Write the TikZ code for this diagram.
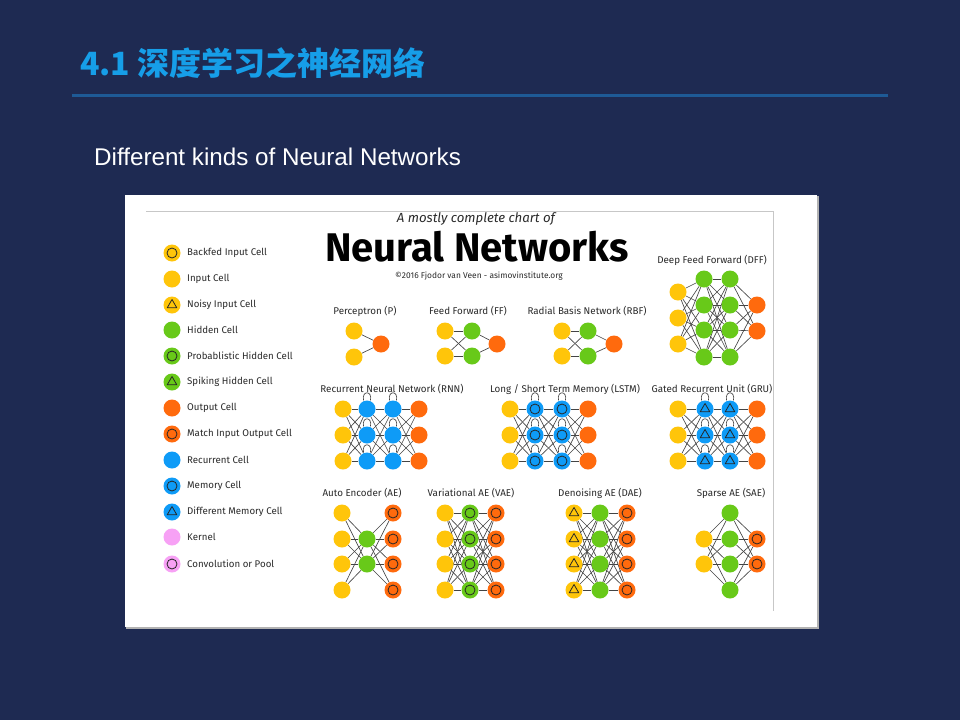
\documentclass[tikz,border=0pt]{standalone}
\usepackage{fontspec}
\setmainfont{Fira Sans}
\newfontfamily\cjkfont{Noto Sans CJK SC}
\newfontfamily\subfont{Liberation Sans}
\pgfdeclarelayer{bglayer}
\pgfdeclarelayer{edgelayer}
\pgfsetlayers{bglayer,edgelayer,main}
\definecolor{bgnavy}{HTML}{1E2A52}
\definecolor{titleblue}{HTML}{169EE8}
\definecolor{rulecol}{HTML}{1E5A96}
\definecolor{cyel}{HTML}{FFC50A}
\definecolor{cgrn}{HTML}{68C919}
\definecolor{corg}{HTML}{FF6A0D}
\definecolor{cblu}{HTML}{0E9BF7}
\definecolor{cpnk}{HTML}{F7A1F5}
\definecolor{edgecol}{HTML}{444444}
\definecolor{txtcol}{HTML}{2A2A2A}
\tikzset{
  cell/.style={circle,minimum size=17pt,inner sep=0pt,draw=none},
  yel/.style={cell,fill=cyel},
  grn/.style={cell,fill=cgrn},
  org/.style={cell,fill=corg},
  blu/.style={cell,fill=cblu},
  pnk/.style={cell,fill=cpnk},
  ring/.style={path picture={\draw[black!85,line width=0.8pt] (path picture bounding box.center) circle (5pt);}},
  tri/.style={path picture={\draw[black!85,line width=0.8pt,line join=round]
      ([shift={(90:5.5pt)}]path picture bounding box.center) --
      ([shift={(210:5.5pt)}]path picture bounding box.center) --
      ([shift={(330:5.5pt)}]path picture bounding box.center) -- cycle;}},
  conn/.style={draw=edgecol,line width=0.65pt},
  loopc/.style={draw=edgecol,line width=0.65pt},
  netlabel/.style={font=\fontsize{9.8}{11}\selectfont,text=txtcol,inner sep=0pt},
  leglabel/.style={font=\fontsize{9.7}{11}\selectfont,text=txtcol,anchor=west,inner sep=0pt},
}
\begin{document}
\begin{tikzpicture}[x=1pt,y=-1pt]
\useasboundingbox (0,0) rectangle (960,720);
\begin{pgfonlayer}{bglayer}
\fill[bgnavy] (0,0) rectangle (960,720);
\fill[black!30] (126,196) rectangle (819,629);
\fill[white] (125,195) rectangle (817,627);
\draw[black!22,line width=0.8pt] (146,211) -- (773,211) -- (773,611);
\end{pgfonlayer}
% title
\node[anchor=west,inner sep=0pt,text=titleblue,font=\cjkfont\bfseries\fontsize{32}{36}\selectfont] (title) at (80,63) {4.1 深度学习之神经网络};
\draw[rulecol,line width=3pt] (72,95) -- (888,95);
\node[anchor=west,inner sep=0pt,text=white,font=\subfont\fontsize{24.2}{28}\selectfont] (sub) at (94,157) {Different kinds of Neural Networks};
% chart titles
\node[inner sep=0pt,text=txtcol,font=\itshape\fontsize{13.2}{15}\selectfont] (t1) at (476,219) {A mostly complete chart of};
\node[inner sep=0pt,text=black,font=\bfseries\fontsize{40}{44}\selectfont] (t2) at (477,247) {Neural Networks};
\node[inner sep=0pt,text=txtcol,font=\fontsize{8.4}{10}\selectfont] (t3) at (479,276) {©2016 Fjodor van Veen - asimovinstitute.org};
% legend
\node[yel,ring] (L1) at (172,253) {}; \node[leglabel] (L1t) at (187,253) {Backfed Input Cell};
\node[yel] (L2) at (172,279) {}; \node[leglabel] (L2t) at (187,279) {Input Cell};
\node[yel,tri] (L3) at (172,305) {}; \node[leglabel] (L3t) at (187,305) {Noisy Input Cell};
\node[grn] (L4) at (172,330) {}; \node[leglabel] (L4t) at (187,330) {Hidden Cell};
\node[grn,ring] (L5) at (172,356) {}; \node[leglabel] (L5t) at (187,356) {Probablistic Hidden Cell};
\node[grn,tri] (L6) at (172,382) {}; \node[leglabel] (L6t) at (187,382) {Spiking Hidden Cell};
\node[org] (L7) at (172,408) {}; \node[leglabel] (L7t) at (187,408) {Output Cell};
\node[org,ring] (L8) at (172,434) {}; \node[leglabel] (L8t) at (187,434) {Match Input Output Cell};
\node[blu] (L9) at (172,460) {}; \node[leglabel] (L9t) at (187,460) {Recurrent Cell};
\node[blu,ring] (L10) at (172,486) {}; \node[leglabel] (L10t) at (187,486) {Memory Cell};
\node[blu,tri] (L11) at (172,512) {}; \node[leglabel] (L11t) at (187,512) {Different Memory Cell};
\node[pnk] (L12) at (172,537) {}; \node[leglabel] (L12t) at (187,537) {Kernel};
\node[pnk,ring] (L13) at (172,564) {}; \node[leglabel] (L13t) at (187,564) {Convolution or Pool};
% network labels
\node[netlabel] (lP) at (365,311) {Perceptron (P)};
\node[netlabel] (lFF) at (468,311) {Feed Forward (FF)};
\node[netlabel] (lRBF) at (587,311) {Radial Basis Network (RBF)};
\node[netlabel] (lDFF) at (712,260) {Deep Feed Forward (DFF)};
\node[netlabel] (lRNN) at (392,389) {Recurrent Neural Network (RNN)};
\node[netlabel] (lLSTM) at (565,389) {Long / Short Term Memory (LSTM)};
\node[netlabel] (lGRU) at (712,389) {Gated Recurrent Unit (GRU)};
\node[netlabel] (lAE) at (362,493) {Auto Encoder (AE)};
\node[netlabel] (lVAE) at (471,493) {Variational AE (VAE)};
\node[netlabel] (lDAE) at (600,493) {Denoising AE (DAE)};
\node[netlabel] (lSAE) at (731,493) {Sparse AE (SAE)};
% ---------- Perceptron
\node[yel] (P-i1) at (354,331) {};
\node[yel] (P-i2) at (354,357) {};
\node[org] (P-o1) at (381,344) {};
% ---------- FF
\foreach \k/\y in {1/331,2/356}{\node[yel] (FF-i\k) at (445,\y) {}; \node[grn] (FF-h\k) at (472,\y) {};}
\node[org] (FF-o1) at (497,344) {};
% ---------- RBF
\foreach \k/\y in {1/331,2/356}{\node[yel] (RBF-i\k) at (562,\y) {}; \node[grn] (RBF-h\k) at (588,\y) {};}
\node[org] (RBF-o1) at (614,344) {};
% ---------- DFF
\foreach \k/\y in {1/292,2/318,3/344}{\node[yel] (DFF-i\k) at (678,\y) {};}
\foreach \k/\y in {1/279,2/305,3/330,4/357}{\node[grn] (DFF-a\k) at (704,\y) {}; \node[grn] (DFF-b\k) at (730,\y) {};}
\foreach \k/\y in {1/305,2/331}{\node[org] (DFF-o\k) at (757,\y) {};}
% ---------- RNN / LSTM / GRU
\foreach \k/\y in {1/409,2/435,3/461}{
  \node[yel] (RNN-i\k) at (343,\y) {}; \node[blu] (RNN-a\k) at (367,\y) {}; \node[blu] (RNN-b\k) at (393,\y) {}; \node[org] (RNN-o\k) at (419,\y) {};
  \node[yel] (LSTM-i\k) at (510,\y) {}; \node[blu,ring] (LSTM-a\k) at (535,\y) {}; \node[blu,ring] (LSTM-b\k) at (562,\y) {}; \node[org] (LSTM-o\k) at (588,\y) {};
  \node[yel] (GRU-i\k) at (678,\y) {}; \node[blu,tri] (GRU-a\k) at (705,\y) {}; \node[blu,tri] (GRU-b\k) at (730,\y) {}; \node[org] (GRU-o\k) at (757,\y) {};
}
% ---------- AE / VAE / DAE / SAE
\foreach \k/\y in {1/513,2/539,3/564,4/590}{
  \node[yel] (AE-i\k) at (342,\y) {}; \node[org,ring] (AE-o\k) at (393,\y) {};
  \node[yel] (VAE-i\k) at (445,\y) {}; \node[grn,ring] (VAE-h\k) at (470,\y) {}; \node[org,ring] (VAE-o\k) at (496,\y) {};
  \node[yel,tri] (DAE-i\k) at (574,\y) {}; \node[grn] (DAE-h\k) at (600,\y) {}; \node[org,ring] (DAE-o\k) at (627,\y) {};
  \node[grn] (SAE-h\k) at (730,\y) {};
}
\node[grn] (AE-h1) at (367,539) {};
\node[grn] (AE-h2) at (367,564) {};
\foreach \k/\y in {1/539,2/564}{\node[yel] (SAE-i\k) at (704,\y) {}; \node[org,ring] (SAE-o\k) at (757,\y) {};}
% ---------- connectors (behind nodes)
\begin{pgfonlayer}{edgelayer}
\foreach \a in {1,2} \draw[conn] (P-i\a) -- (P-o1);
\foreach \a in {1,2}{\foreach \b in {1,2} \draw[conn] (FF-i\a) -- (FF-h\b); \draw[conn] (FF-h\a) -- (FF-o1);}
\foreach \a in {1,2}{\foreach \b in {1,2} \draw[conn] (RBF-i\a) -- (RBF-h\b); \draw[conn] (RBF-h\a) -- (RBF-o1);}
\foreach \a in {1,2,3}{\foreach \b in {1,2,3,4} \draw[conn] (DFF-i\a) -- (DFF-a\b);}
\foreach \a in {1,2,3,4}{\foreach \b in {1,2,3,4} \draw[conn] (DFF-a\a) -- (DFF-b\b);}
\foreach \a in {1,2,3,4}{\foreach \b in {1,2} \draw[conn] (DFF-b\a) -- (DFF-o\b);}
\foreach \n in {RNN,LSTM,GRU}{
  \foreach \a in {1,2,3}{\foreach \b in {1,2,3}{
    \draw[conn] (\n-i\a) -- (\n-a\b);
    \draw[conn] (\n-a\a) -- (\n-b\b);
    \draw[conn] (\n-b\a) -- (\n-o\b);}}
  \foreach \a in {1,2,3}{
    \draw[loopc] ([xshift=-3.5pt]\n-a\a.north) .. controls ([xshift=-5.5pt,yshift=10pt]\n-a\a.north) and ([xshift=5.5pt,yshift=10pt]\n-a\a.north) .. ([xshift=3.5pt]\n-a\a.north);
    \draw[loopc] ([xshift=-3.5pt]\n-b\a.north) .. controls ([xshift=-5.5pt,yshift=10pt]\n-b\a.north) and ([xshift=5.5pt,yshift=10pt]\n-b\a.north) .. ([xshift=3.5pt]\n-b\a.north);}
}
\foreach \a in {1,2,3,4}{\foreach \b in {1,2} {\draw[conn] (AE-i\a) -- (AE-h\b); \draw[conn] (AE-h\b) -- (AE-o\a);}}
\foreach \n in {VAE,DAE}{\foreach \a in {1,2,3,4}{\foreach \b in {1,2,3,4}{\draw[conn] (\n-i\a) -- (\n-h\b); \draw[conn] (\n-h\a) -- (\n-o\b);}}}
\foreach \a in {1,2}{\foreach \b in {1,2,3,4}{\draw[conn] (SAE-i\a) -- (SAE-h\b); \draw[conn] (SAE-h\b) -- (SAE-o\a);}}
\end{pgfonlayer}
\end{tikzpicture}
\end{document}
